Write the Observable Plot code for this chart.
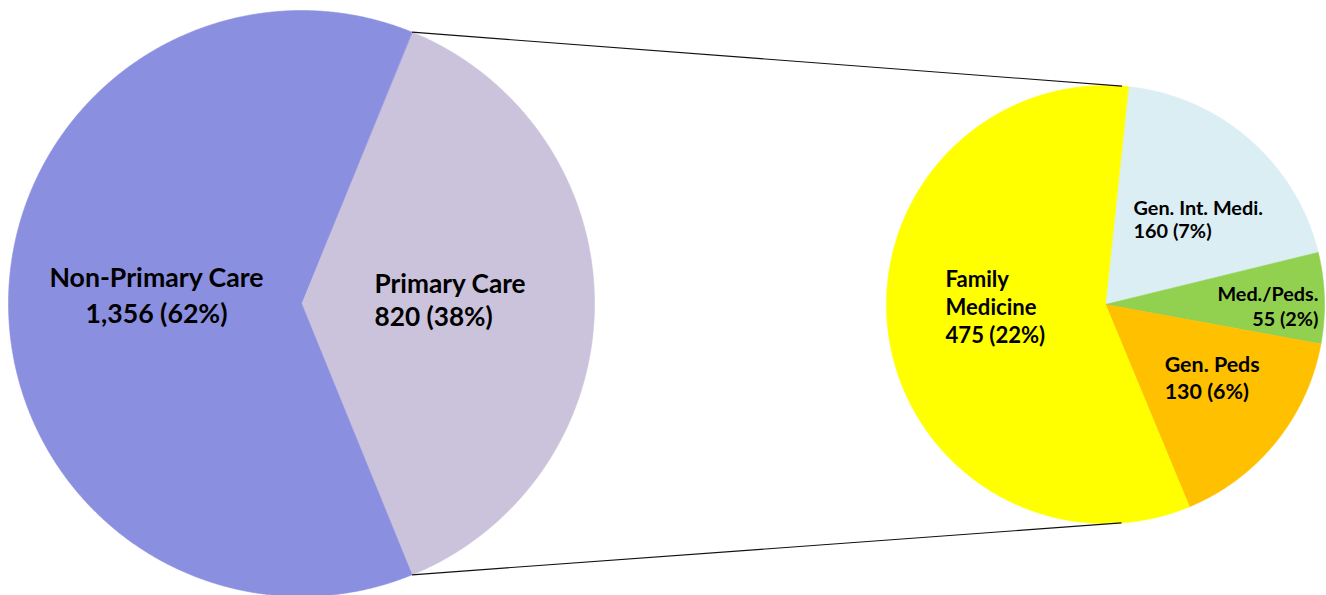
<!DOCTYPE html>
<html>
<head>
<meta charset="utf-8">
<script src="https://cdn.jsdelivr.net/npm/d3@7"></script>
<script src="https://cdn.jsdelivr.net/npm/@observablehq/plot@0.6"></script>
<style>
  html, body { margin: 0; padding: 0; background: #ffffff; }
  #chart svg { display: block; }
</style>
</head>
<body>
<div id="chart"></div>
<script>
// ---------- data ----------
const mainCategories = ["Non-Primary Care", "Primary Care"];
const mainValues = [1356, 820];
const mainPercents = ["62%", "38%"];

const subCategories = ["Gen. Int. Medi.", "Med./Peds.", "Gen. Peds", "Family Medicine"];
const subValues = [160, 55, 130, 475];
const subPercents = ["7%", "2%", "6%", "22%"];
const subLabelNames = ["Gen. Int. Medi.", "Med./Peds.", "Gen. Peds", "Family\nMedicine"];

// ---------- styles ----------
const mainColors = ["#8B8FE0", "#CBC3DC"];
const subColors = ["#DAEEF3", "#92D050", "#FFC000", "#FFFF00"];

// ---------- layout ----------
const W = 1326, H = 595;
const leftPie = {cx: 301, cy: 303, r: 293};
const rightPie = {cx: 1105, cy: 304, r: 219};
const subStartAngle = 6 * Math.PI / 180;
const FONT = "Lato, 'Open Sans', sans-serif";
const fontScale = 0.92;
const labelLayout = {
  "Non-Primary Care": {frac: 0.5, dx: 1.5, dy: -10.3, anchor: "middle", size: 29, lh: 1.35},
  "Primary Care":     {frac: 0.5, dx: -73.5, dy: -4.7, anchor: "start", size: 28.5, lh: 1.27},
  "Family Medicine":  {frac: 0.5, dx: -51.6, dy: -14, anchor: "start", size: 24, lh: 1.27},
  "Gen. Int. Medi.":  {frac: 0.5, dx: -44, dy: -3, anchor: "start", size: 21.6, lh: 1.18},
  "Med./Peds.":       {frac: 0.5, dx: 103.5, dy: 4.4, anchor: "end", size: 21.5, lh: 1.26},
  "Gen. Peds":        {frac: 0.5, dx: -26, dy: 4, anchor: "start", size: 23.3, lh: 1.26}
};

// ---------- geometry from data ----------
const polar = (pie, a, rr) => [pie.cx + rr * Math.sin(a), pie.cy - rr * Math.cos(a)];

const mainData = mainCategories.map((name, i) => ({name, value: mainValues[i], pct: mainPercents[i], label: name}));
const subData = subCategories.map((name, i) => ({name, value: subValues[i], pct: subPercents[i], label: subLabelNames[i]}));

const mainTotal = d3.sum(mainValues);
const primaryIdx = mainCategories.indexOf("Primary Care");
const primaryAngle = 2 * Math.PI * mainValues[primaryIdx] / mainTotal;
const mainStart = Math.PI / 2 - primaryAngle / 2;
const mainOrdered = [mainData[primaryIdx], ...mainData.filter((d, i) => i !== primaryIdx)];
const mainArcs = d3.pie().sort(null).value(d => d.value).startAngle(mainStart).endAngle(mainStart + 2 * Math.PI)(mainOrdered);
const subArcs = d3.pie().sort(null).value(d => d.value).startAngle(subStartAngle).endAngle(subStartAngle + 2 * Math.PI)(subData);

function slicePoints(arcs, pie) {
  const pts = [];
  for (const a of arcs) {
    pts.push({name: a.data.name, x: pie.cx, y: pie.cy});
    const n = Math.max(8, Math.ceil((a.endAngle - a.startAngle) / (Math.PI / 720)));
    for (let k = 0; k <= n; k++) {
      const ang = a.startAngle + (a.endAngle - a.startAngle) * k / n;
      const [x, y] = polar(pie, ang, pie.r);
      pts.push({name: a.data.name, x, y});
    }
  }
  return pts;
}
const slices = [...slicePoints(mainArcs, leftPie), ...slicePoints(subArcs, rightPie)];

// connector lines: from primary slice edge points, tangent to the secondary pie
const primaryArc = mainArcs.find(a => a.data.name === "Primary Care");
function tangent(P, pie, side) {
  const dx = pie.cx - P[0], dy = pie.cy - P[1];
  const d = Math.hypot(dx, dy);
  const th = Math.atan2(dy, dx);
  const beta = Math.asin(pie.r / d);
  const L = Math.sqrt(d * d - pie.r * pie.r);
  const t = th + side * beta;
  return [P[0] + L * Math.cos(t), P[1] + L * Math.sin(t)];
}
const pTop = polar(leftPie, primaryArc.startAngle, leftPie.r);
const pBot = polar(leftPie, primaryArc.endAngle, leftPie.r);
const qTop = tangent(pTop, rightPie, -1);
const qBot = tangent(pBot, rightPie, +1);
const connectors = [
  {x1: pTop[0], y1: pTop[1], x2: qTop[0], y2: qTop[1]},
  {x1: pBot[0], y1: pBot[1], x2: qBot[0], y2: qBot[1]}
];

// labels
const fmt = d3.format(",");
function labelFor(a, pie) {
  const L = labelLayout[a.data.name];
  const mid = (a.startAngle + a.endAngle) / 2;
  const [x, y] = polar(pie, mid, pie.r * L.frac);
  return {x: x + L.dx, y: y + L.dy, text: `${a.data.label}\n${fmt(a.data.value)} (${a.data.pct})`, L};
}
const labels = [...mainArcs.map(a => labelFor(a, leftPie)), ...subArcs.map(a => labelFor(a, rightPie))];

const allNames = [...mainCategories, ...subCategories];
const allColors = [...mainColors, ...subColors];

const chart = Plot.plot({
  width: W,
  height: H,
  margin: 0,
  style: {background: "#ffffff", fontFamily: FONT},
  x: {domain: [0, W], range: [0, W], axis: null},
  y: {domain: [0, H], range: [0, H], axis: null},
  color: {domain: allNames, range: allColors},
  marks: [
    Plot.line(slices, {x: "x", y: "y", z: "name", fill: "name", stroke: "name", strokeWidth: 0.6, curve: "linear-closed"}),
    Plot.link(connectors, {x1: "x1", y1: "y1", x2: "x2", y2: "y2", stroke: "#111", strokeWidth: 1.1}),
    ...labels.map(l => Plot.text([l], {
      x: "x", y: "y", text: "text",
      textAnchor: l.L.anchor, lineAnchor: "middle",
      lineHeight: l.L.lh, fontSize: l.L.size * fontScale,
      fontWeight: 700, fill: "#000", fontFamily: FONT
    }))
  ]
});
document.getElementById("chart").appendChild(chart);
</script>
</body>
</html>
